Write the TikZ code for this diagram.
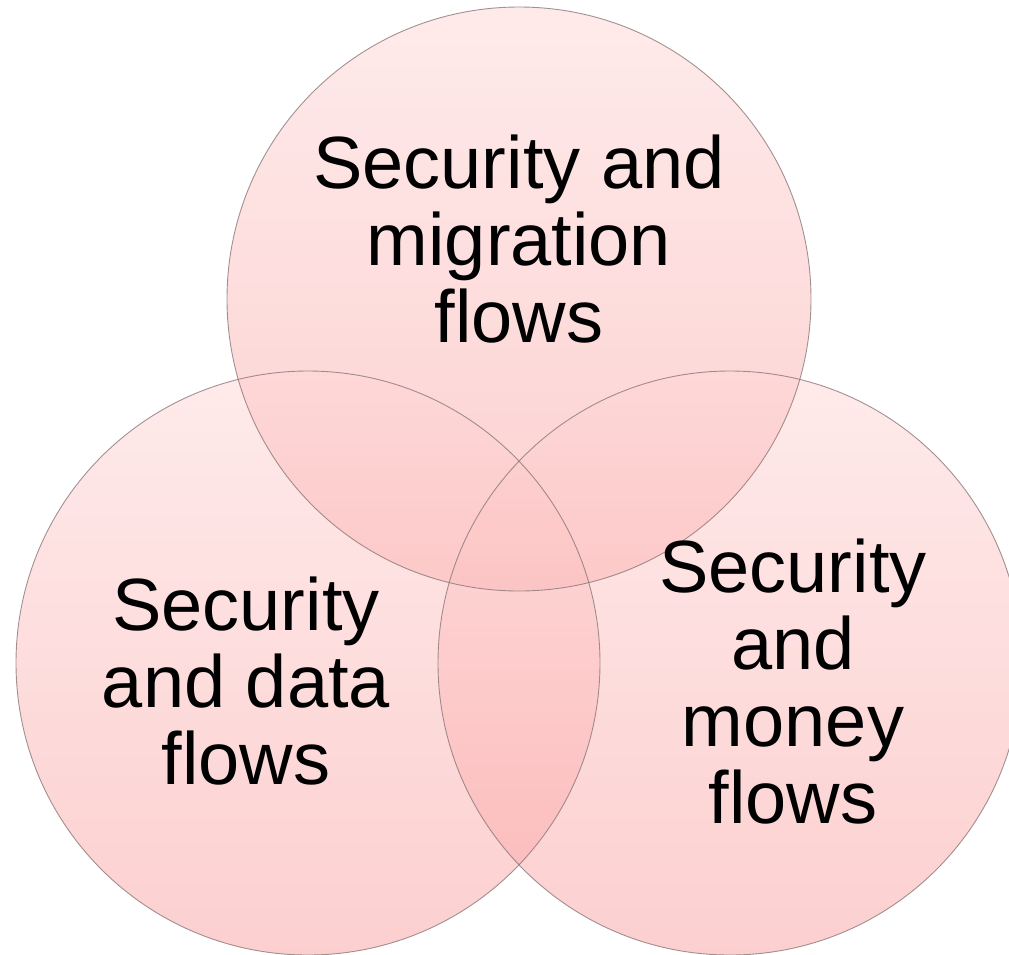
\documentclass[tikz,border=0pt]{standalone}
\usepackage{fontspec}
\setmainfont{Liberation Sans}
\definecolor{pinktop}{RGB}{255,214,214}
\definecolor{pinkbot}{RGB}{250,160,160}
\definecolor{rimgray}{RGB}{140,120,120}
\begin{document}
\begin{tikzpicture}[x=1pt,y=-1pt,
  venn/.style={top color=pinktop,bottom color=pinkbot,fill opacity=0.5},
  rim/.style={draw=rimgray,line width=0.9pt,draw opacity=0.8},
  lbl/.style={font=\fontsize{74}{77}\selectfont,align=center,text=black,inner sep=0pt,anchor=base}]
\useasboundingbox (0,0) rectangle (1009,954);
\clip (0,0) rectangle (1009,954);
\coordinate (ct) at (519,299);
\coordinate (cl) at (308,663);
\coordinate (cr) at (730,663);
\shade[venn] (ct) circle[radius=292];
\shade[venn] (cl) circle[radius=292];
\shade[venn] (cr) circle[radius=292];
\draw[rim] (ct) circle[radius=292];
\draw[rim] (cl) circle[radius=292];
\draw[rim] (cr) circle[radius=292];
\node[lbl] (tt) at (519,342) {Security and\\migration\\flows};
\node[lbl] (tl) at (246,784) {Security\\and data\\flows};
\node[lbl] (tr) at (793,823) {Security\\and\\money\\flows};
\end{tikzpicture}
\end{document}
